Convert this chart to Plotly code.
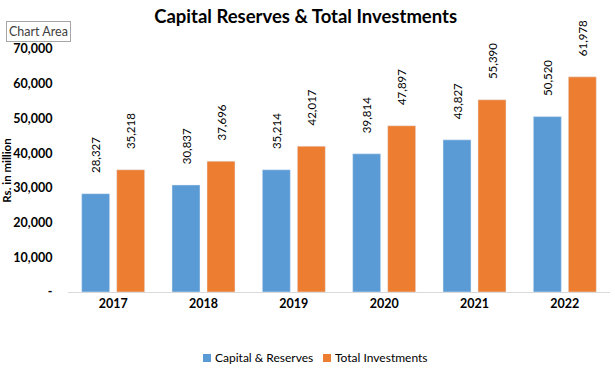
import plotly.graph_objects as go

years = ["2017", "2018", "2019", "2020", "2021", "2022"]
capital_reserves = [28327, 30837, 35214, 39814, 43827, 50520]
total_investments = [35218, 37696, 42017, 47897, 55390, 61978]
series_names = ["Capital & Reserves", "Total Investments"]
tick_vals = [0, 10000, 20000, 30000, 40000, 50000, 60000, 70000]
tick_text = ["-", "10,000", "20,000", "30,000", "40,000", "50,000", "60,000", "70,000"]

FONT = "Lato, Calibri, 'Noto Sans', sans-serif"
BLUE = "#5B9BD5"
ORANGE = "#ED7D31"
PAD = "\u00a0" * 6

fig = go.Figure()
for name, vals, col in [(series_names[0], capital_reserves, BLUE),
                        (series_names[1], total_investments, ORANGE)]:
    fig.add_bar(x=years, y=vals, name=name, marker_color=col, showlegend=False,
                text=[f"{PAD}{v:,}" for v in vals], textposition="outside",
                textangle=-90, constraintext="none",
                textfont=dict(size=11.5, color="#000000", family=FONT),
                cliponaxis=False)

fig.update_layout(
    width=615, height=376,
    margin=dict(l=68, r=5, t=49, b=84, autoexpand=False),
    paper_bgcolor="white", plot_bgcolor="white",
    barmode="group", bargap=0.225, bargroupgap=0.2,
    font=dict(family=FONT, color="#000000"),
    title=dict(text="<b>Capital Reserves & Total Investments</b>",
               x=0.497, xanchor="center", y=0.955, yanchor="middle",
               font=dict(size=18.5, family=FONT, color="#000000")),
    showlegend=False,
)
fig.update_xaxes(showgrid=False, showline=True, linecolor="#D9D9D9", linewidth=1,
                 ticks="", automargin=False,
                 tickfont=dict(size=12.5, family=FONT, color="#000000"),
                 tickprefix="<b>", ticksuffix="</b>")
fig.update_yaxes(range=[0, 70000], tickvals=tick_vals, ticktext=[f"<b>{t}</b>" for t in tick_text],
                 showgrid=False, showline=False, zeroline=False, automargin=False,
                 ticks="outside", ticklen=12, tickcolor="rgba(0,0,0,0)",
                 tickfont=dict(size=12.5, family=FONT, color="#000000"),
                 title=dict(text="<b>Rs. in million</b>", standoff=0,
                            font=dict(size=11.5, family=FONT, color="#000000")))

# legend (custom, to match compact Excel-style legend)
for (x0, x1, xt), name, col in zip([(0.2491, 0.2638, 0.2675), (0.4705, 0.4852, 0.4889)],
                                   series_names, [BLUE, ORANGE]):
    fig.add_shape(type="rect", xref="paper", yref="paper", x0=x0, x1=x1,
                  y0=-0.2881, y1=-0.2551, fillcolor=col, line=dict(width=0))
    fig.add_annotation(text=name, xref="paper", yref="paper", x=xt, y=-0.2716,
                       xanchor="left", yanchor="middle", showarrow=False,
                       font=dict(size=12, family=FONT, color="#000000"))

fig.add_annotation(text="Chart Area", xref="paper", yref="paper",
                   x=-0.114, y=1.074, xanchor="left", yanchor="middle", showarrow=False,
                   font=dict(size=12.5, family=FONT, color="#404040"),
                   bgcolor="white", bordercolor="#A6A6A6", borderwidth=1, borderpad=2)

fig.write_html("out.html", config={"displayModeBar": False},
               post_script="document.body.style.margin='0px';")
